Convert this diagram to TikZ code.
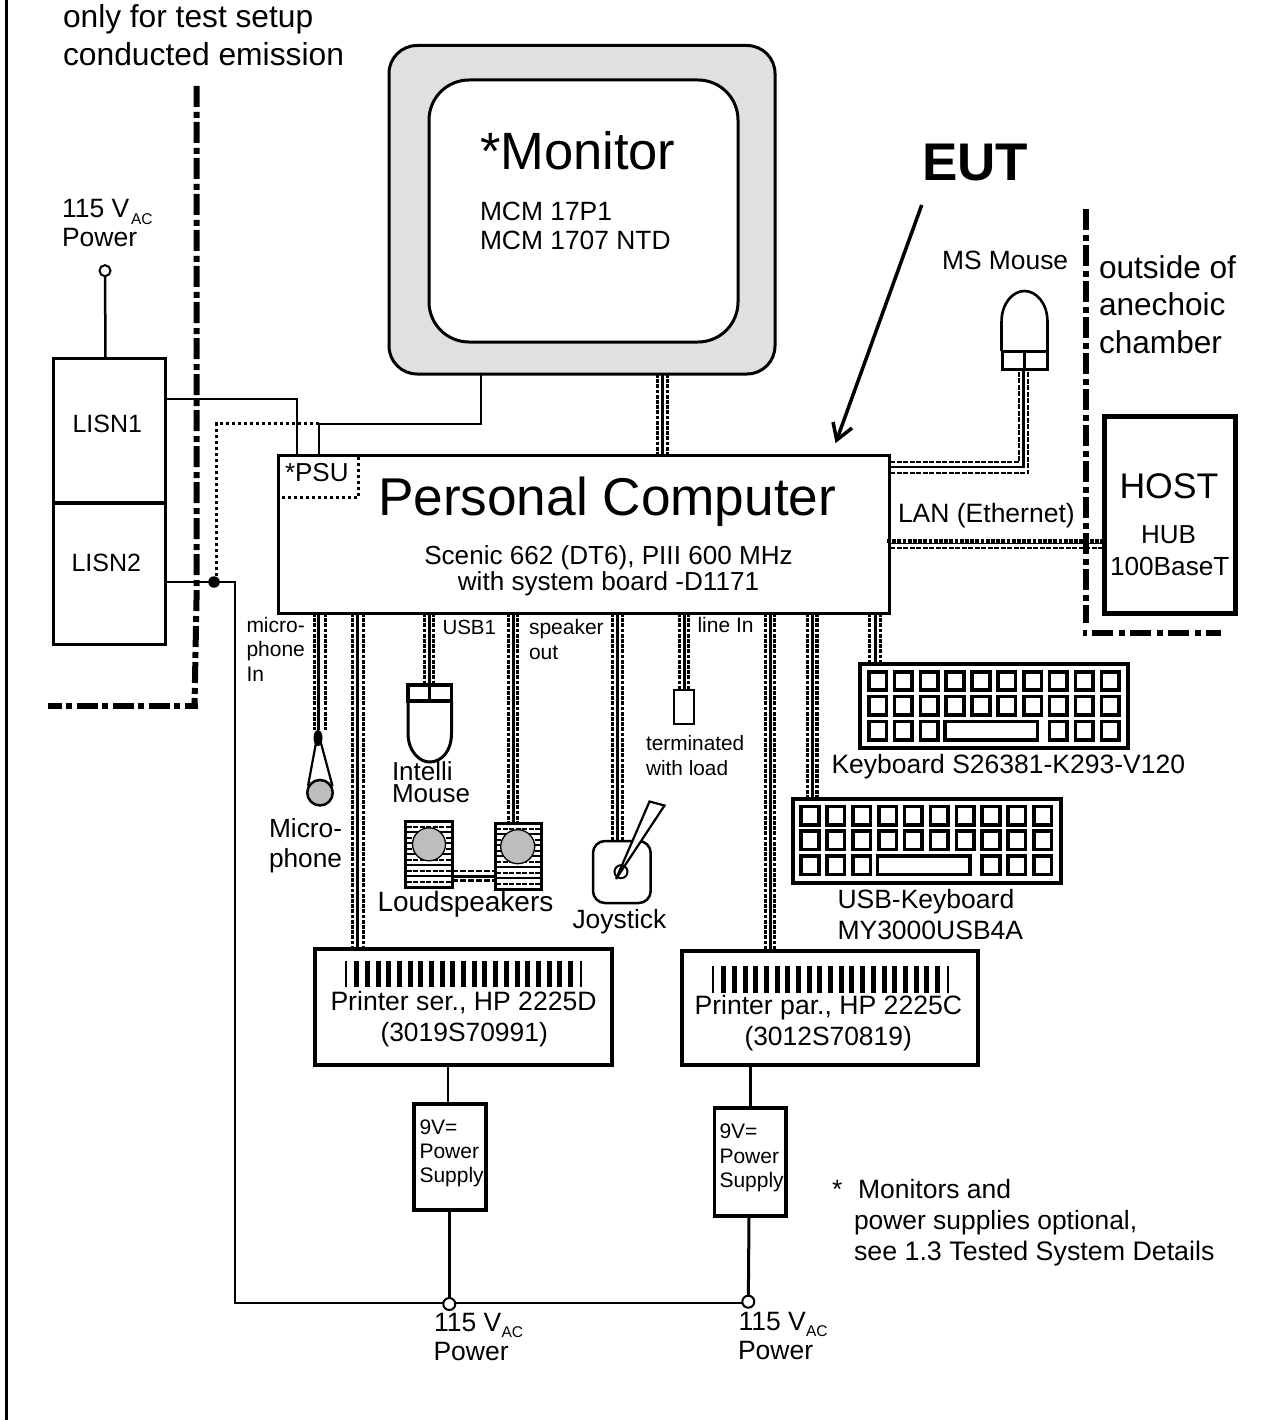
\documentclass[tikz,border=0pt]{standalone}
\usepackage{fontspec}
\setmainfont{Liberation Sans}
\newcommand\bx[6]{\node[draw=black,inner sep=0pt,outer sep=0pt,minimum width={#4-#2},minimum height={#5-#3},#6] (#1) at ({(#2+#4)/2},{(#3+#5)/2}) {};}
\newcommand\vcab[4]{%
  \draw[cdash] ([xshift=#3pt]#1) -- ([xshift=#3pt]#2);
  \draw[csol] (#1) -- (#2);
  \draw[cdash] ([xshift=#4pt]#1) -- ([xshift=#4pt]#2);}
\newcommand\kbd[3]{%
  \begin{scope}[shift={(#2,#3)}]
    \bx{#1}{0}{0}{268}{84}{line width=4pt}
    \foreach \c in {0,...,9} {
      \foreach \r in {0,1} {
        \draw[line width=3.6pt] ({17.5+25.85*\c-8.8},{17+24.8*\r-9.2}) rectangle ++(17.6,18.4);
      }
    }
    \foreach \c in {0,1,2,7,8,9} {
      \draw[line width=3.6pt] ({17.5+25.85*\c-8.8},{66.6-9.2}) rectangle ++(17.6,18.4);
    }
    \draw[line width=3.6pt] (85,57.4) rectangle (177.5,75.8);
  \end{scope}}
\newcommand\spk[5]{%
  \begin{scope}
    \bx{#1}{#2}{#3}{#4}{#5}{line width=3pt}
    \foreach \k in {1,...,11} {
      \pgfmathsetmacro\yy{#3+5.5*\k}
      \ifodd\k
        \draw[line width=2pt,dash pattern=on 5pt off 1.5pt] (#2+1,\yy) -- (#4-1,\yy);
      \else
        \draw[line width=2pt] (#2+1,\yy) -- (#4-1,\yy);
      \fi
    }
  \end{scope}}
\tikzset{
  lab/.style={anchor=base west,inner sep=0pt,outer sep=0pt,font=\fontsize{#1}{#1}\selectfont},
  cdash/.style={line width=3.3pt,dash pattern=on 3.8pt off 1.4pt},
  csol/.style={line width=3pt},
  wire/.style={line width=2pt},
  pline/.style={line width=3pt},
  dotl/.style={line width=3.2pt,dash pattern=on 3pt off 3pt},
  bound/.style={line width=6pt,dash pattern=on 21pt off 5pt on 6pt off 4pt},
  term/.style={circle,draw=black,fill=white,line width=2pt,minimum size=12pt,inner sep=0pt,outer sep=0pt},
  gcirc/.style={circle,draw=black,fill=black!26,inner sep=0pt,outer sep=0pt},
}
\begin{document}
\begin{tikzpicture}[x=1pt,y=-1pt,line join=miter]
\useasboundingbox (0,0) rectangle (1263,1420);
% page border
\coordinate (bt) at (6.7,0); \coordinate (bb) at (6.7,1420);
\draw[line width=3.5pt] (bt) -- (bb);

% boundaries
\coordinate (la) at (196.5,86); \coordinate (lb) at (196.5,600); \coordinate (lc) at (194.5,706);
\coordinate (ld) at (198,706); \coordinate (le) at (48,706);
\draw[bound] (la) -- (lb) -- (lc);
\draw[bound,dash pattern=on 21pt off 5pt on 6pt off 4pt,dash phase=8pt] (ld) -- (le);
\coordinate (ra) at (1085.7,209); \coordinate (rb) at (1085.7,623);
\coordinate (rc) at (1092,632.7); \coordinate (rd) at (1221,632.7);
\coordinate (re) at (1083,632.7); \coordinate (rf) at (1087,632.7);
\draw[bound] (ra) -- (rb);
\draw[bound,dash pattern=on 21pt off 5.5pt on 6pt off 5.5pt] (rc) -- (rd);
\draw[line width=6pt] (re) -- (rf);

% cable coordinates
\coordinate (monA) at (662.3,374); \coordinate (monB) at (662.3,455);
\vcab{monA}{monB}{-5}{5}
\coordinate (micA) at (318.7,613); \coordinate (micB) at (318.7,730);
\vcab{micA}{micB}{-4.5}{7}
\coordinate (serA) at (357.3,613); \coordinate (serB) at (357.3,948);
\vcab{serA}{serB}{-4.5}{6.5}
\coordinate (usbA) at (429,613); \coordinate (usbB) at (429,684);
\vcab{usbA}{usbB}{-4.5}{4.5}
\coordinate (spkA) at (513,613); \coordinate (spkB) at (513,823);
\vcab{spkA}{spkB}{-4.5}{4.5}
\coordinate (joyA) at (617.3,613); \coordinate (joyB) at (617.3,841);
\vcab{joyA}{joyB}{-4.7}{5}
\coordinate (linA) at (684,613); \coordinate (linB) at (684,689);
\vcab{linA}{linB}{-4.2}{4.2}
\coordinate (parA) at (770,613); \coordinate (parB) at (770,949);
\vcab{parA}{parB}{-4.4}{4.4}
\coordinate (ukbA) at (812.3,613); \coordinate (ukbB) at (812.3,798);
\vcab{ukbA}{ukbB}{-4.6}{4.6}
\coordinate (kbdA) at (875,613); \coordinate (kbdB) at (875,664);
\vcab{kbdA}{kbdB}{-5.7}{5.7}

% mouse cable
\coordinate (m1a) at (890,462); \coordinate (m1b) at (1019,462); \coordinate (m1c) at (1019,370);
\coordinate (m2a) at (890,467); \coordinate (m2b) at (1023.5,467); \coordinate (m2c) at (1023.5,370);
\coordinate (m3a) at (890,473); \coordinate (m3b) at (1028,473); \coordinate (m3c) at (1028,370);
\draw[cdash,line width=2.8pt,dash pattern=on 5pt off 1.5pt] (m1a) -- (m1b) -- (m1c);
\draw[line width=2.2pt] (m2a) -- (m2b) -- (m2c);
\draw[cdash,line width=2.8pt,dash pattern=on 5pt off 1.5pt] (m3a) -- (m3b) -- (m3c);
% LAN cable
\coordinate (l1a) at (887,541); \coordinate (l1b) at (1103,541);
\coordinate (l2a) at (890,543.5); \coordinate (l2b) at (1103,543.5);
\coordinate (l3a) at (890,548); \coordinate (l3b) at (1103,548);
\draw[cdash,line width=3.6pt] (l1a) -- (l1b);
\draw[line width=1.8pt] (l2a) -- (l2b);
\draw[cdash,line width=2.8pt,dash pattern=on 5pt off 1.5pt] (l3a) -- (l3b);
% speaker link
\coordinate (s1a) at (452,871); \coordinate (s1b) at (495,871);
\coordinate (s2a) at (452,876); \coordinate (s2b) at (495,876);
\coordinate (s3a) at (452,880.7); \coordinate (s3b) at (495,880.7);
\draw[cdash,line width=2.6pt,dash pattern=on 6pt off 2pt] (s1a) -- (s1b);
\draw[line width=3pt] (s2a) -- (s2b);
\draw[cdash,line width=2.6pt,dash pattern=on 6pt off 2pt] (s3a) -- (s3b);

% monitor
\bx{monO}{389}{45.5}{775}{374}{line width=3pt,rounded corners=28pt,fill=black!12}
\bx{monI}{429}{80}{738}{342}{line width=3pt,rounded corners=40pt,fill=white}
\node[lab=52.5] (monT) at (480,170) {*Monitor};
\node[lab=26.4] (mon1) at (480,221) {MCM 17P1};
\node[lab=26.4] (mon2) at (480,250) {MCM 1707 NTD};

% PC
\bx{pc}{278.5}{455.5}{889.5}{613.5}{line width=3.5pt}
\node[lab=53.2] (pcT) at (378,515) {Personal Computer};
\node[lab=26.1,anchor=base] (pc1) at (608.5,564) {Scenic 662 (DT6), PIII 600 MHz};
\node[lab=26.1,anchor=base] (pc2) at (608.5,590) {with system board -D1171};
\node[lab=26] (psuT) at (285,481) {*PSU};
\coordinate (psA) at (358.3,457); \coordinate (psB) at (358.3,497.3); \coordinate (psC) at (280,497.3);
\draw[dotl] (psA) -- (psB) -- (psC);

% LISN
\bx{lisn}{53.5}{358.5}{165.5}{644.5}{line width=3pt}
\coordinate (lisnL) at (53.5,503); \coordinate (lisnR) at (165.5,503);
\draw[line width=3.5pt] (lisnL) -- (lisnR);
\node[lab=25] (l1) at (72.5,432) {LISN1};
\node[lab=25] (l2) at (71.5,571) {LISN2};
\node[term,minimum size=11pt] (t0) at (105,270.7) {};
\coordinate (l0) at (105.5,358);
\draw[line width=2.5pt] (t0) -- (l0);
\node[lab=26.5] (v0) at (62,218) {115 V};
\node[lab=15.5] (v0s) at (131,224.5) {AC};
\node[lab=26.5] (p0) at (62,247) {Power};

% mains wiring
\coordinate (w1a) at (166,399); \coordinate (w1b) at (297,399); \coordinate (w1c) at (297,455);
\draw[wire] (w1a) -- (w1b) -- (w1c);
\coordinate (w2a) at (318.5,455); \coordinate (w2b) at (318.5,423.5); \coordinate (w2c) at (480.7,423.5); \coordinate (w2d) at (480.7,375);
\draw[wire] (w2a) -- (w2b) -- (w2c) -- (w2d);
\node[circle,fill=black,minimum size=11.5pt,inner sep=0pt,outer sep=0pt] (jn) at (214,582) {};
\coordinate (d1) at (216.7,582); \coordinate (d2) at (216.7,423.5); \coordinate (d3) at (320,423.5);
\draw[dotl] (d1) -- (d2) -- (d3);
\coordinate (w3a) at (166,581.7); \coordinate (w3b) at (235,581.7); \coordinate (w3c) at (235,1303.3);
\coordinate (w3d) at (748,1303.3);
\draw[wire] (w3a) -- (w3b) -- (w3c) -- (w3d);

% text left of cables
\node[lab=21] (mi1) at (246.5,632) {micro-};
\node[lab=21] (mi2) at (246.5,656) {phone};
\node[lab=21] (mi3) at (246.5,681) {In};
\node[lab=20.5] (usbT) at (442.5,634) {USB1};
\node[lab=21] (sp1) at (529,634) {speaker};
\node[lab=21] (sp2) at (529,659) {out};
\node[lab=21] (lnT) at (697.5,632.7) {line In};
\node[lab=20.8] (tm1) at (646,750.7) {terminated};
\node[lab=20.8] (tm2) at (646,775.7) {with load};
\bx{load}{673.5}{689.5}{694}{724}{line width=2pt}

% microphone
\coordinate (mcT) at (318,732); \coordinate (mcL) at (308,786); \coordinate (mcR) at (332.5,786);
\draw[line width=2.2pt] (mcL) -- (mcT) -- (mcR);
\node[circle,fill=black,minimum width=9pt,minimum height=9pt,inner sep=0pt,yscale=1.8] (mcB) at (318,738) {};
\node[gcirc,line width=2.5pt,minimum size=25.5pt] (mcC) at (320,792.7) {};
\node[lab=26.3] (mt1) at (269,837) {Micro-};
\node[lab=26.3] (mt2) at (269,867) {phone};

% intelli mouse
\bx{imT}{408}{685}{451.5}{701}{line width=3.5pt}
\coordinate (imc) at (429.5,685); \coordinate (imd) at (429.5,701);
\draw[line width=3.5pt] (imc) -- (imd);
\coordinate (ima) at (408,701); \coordinate (imb) at (451.5,701);
\draw[line width=3pt] (ima) -- (408,733) .. controls (408,752) and (420,762) .. (429.5,762) .. controls (441,762) and (451.5,752) .. (451.5,733) -- (imb);
\node[lab=26] (it1) at (392,780) {Intelli};
\node[lab=26] (it2) at (392,802) {Mouse};

% speakers
\spk{spL}{405.5}{821}{452.5}{887.5}
\spk{spR}{495}{823}{541}{889.5}
\node[gcirc,line width=1.3pt,minimum size=33pt] (scL) at (429,844.3) {};
\node[gcirc,line width=1.3pt,minimum size=34pt] (scR) at (517.7,846.7) {};
\node[lab=28] (lsT) at (377.5,911.7) {Loudspeakers};

% joystick
\bx{joy}{593}{841}{650.7}{903}{line width=2.5pt,rounded corners=12pt}
\coordinate (jsA) at (616,879); \coordinate (jsB) at (649.5,801.5); \coordinate (jsC) at (664.5,805.5);
\draw[line width=2.2pt,fill=white] (jsA) -- (jsB) -- (jsC) -- cycle;
\node[circle,draw=black,line width=2pt,minimum size=13pt,inner sep=0pt] (jsO) at (621,871.7) {};
\node[lab=26.4] (jtT) at (572.5,928.3) {Joystick};

% keyboards
\kbd{kb1}{860}{664}
\node[lab=26.5] (k1T) at (831.5,773.3) {Keyboard S26381-K293-V120};
\kbd{kb2}{792.5}{798.5}
\node[lab=26.5] (k2a) at (837.5,908) {USB-Keyboard};
\node[lab=26.5] (k2b) at (837.5,939) {MY3000USB4A};

% printers
\bx{pr1}{314.5}{948.5}{612}{1064.5}{line width=4pt}
\bx{pr2}{681.5}{950.5}{978}{1064.5}{line width=4pt}
\draw[line width=2pt] (346,961) -- (346,987);
\foreach \k in {1,...,21} {\draw[line width=5pt] ({345+10.69*\k+1},961) -- ({345+10.69*\k+1},987);}
\draw[line width=2.5pt] (581,961) -- (581,987);
\draw[line width=2pt] (712.5,966) -- (712.5,992.7);
\foreach \k in {1,...,21} {\draw[line width=5pt] ({712+10.69*\k+1},966) -- ({712+10.69*\k+1},992.7);}
\draw[line width=2.5pt] (948,966) -- (948,992.7);
\node[lab=26.6] (p1a) at (330.5,1010) {Printer ser., HP 2225D};
\node[lab=26.4] (p1b) at (380.5,1041.5) {(3019S70991)};
\node[lab=26.6] (p2a) at (694.5,1014) {Printer par., HP 2225C};
\node[lab=26.4] (p2b) at (744.5,1045.5) {(3012S70819)};

% power supplies
\bx{ps1}{414}{1104}{486}{1210}{line width=3.5pt}
\bx{ps2}{714.5}{1108}{786}{1216}{line width=3.5pt}
\node[lab=21] (s1a) at (419.5,1134) {9V=};
\node[lab=21] (s1b) at (419.5,1158) {Power};
\node[lab=21] (s1c) at (419.5,1182.5) {Supply};
\node[lab=21] (s2a) at (719.5,1138.5) {9V=};
\node[lab=21] (s2b) at (719.5,1163) {Power};
\node[lab=21] (s2c) at (719.5,1187.5) {Supply};
\node[term] (t1) at (449.3,1304) {};
\node[term] (t2) at (748.3,1301.7) {};
\coordinate (q1a) at (448.3,1066); \coordinate (q1b) at (448.3,1103);
\coordinate (q2a) at (750,1066); \coordinate (q2b) at (750,1107);
\draw[line width=2.2pt] (q1a) -- (q1b);
\draw[line width=3pt] (q2a) -- (q2b);
\coordinate (q1c) at (449.3,1211); \coordinate (q2c) at (749,1217);
\draw[pline] (q1c) -- (t1);
\draw[pline] (q2c) -- (t2);
\node[lab=26.5] (v1) at (434,1331) {115 V};
\node[lab=15.5] (v1s) at (501.5,1337.5) {AC};
\node[lab=26.5] (p1) at (433.5,1360.5) {Power};
\node[lab=26.5] (v2) at (738.5,1330) {115 V};
\node[lab=15.5] (v2s) at (806,1336.5) {AC};
\node[lab=26.5] (p2) at (738,1359) {Power};

% host
\bx{host}{1104}{416}{1235}{613}{line width=5pt}
\node[lab=35.6] (hT) at (1119.5,498.5) {HOST};
\node[lab=26] (h1) at (1141,543.5) {HUB};
\node[lab=26.2] (h2) at (1110,575) {100BaseT};
\node[lab=26.5] (lanT) at (898,522.7) {LAN (Ethernet)};

% ms mouse
\bx{mmB}{1002}{351}{1047}{369}{line width=3pt}
\coordinate (mmc) at (1024,351); \coordinate (mmd) at (1024,369);
\draw[line width=3pt] (mmc) -- (mmd);
\coordinate (mma) at (1001.5,351); \coordinate (mmb) at (1047.5,351);
\draw[line width=2.6pt] (mma) -- (1001.5,322) .. controls (1001.5,303) and (1013,291) .. (1024.5,291) .. controls (1036,291) and (1047.5,303) .. (1047.5,322) -- (mmb);
\node[lab=26.4] (msT) at (942,269.3) {MS Mouse};
\node[lab=31.6] (o1) at (1099,279) {outside of};
\node[lab=31.6] (o2) at (1099,316) {anechoic};
\node[lab=31.6] (o3) at (1099,353) {chamber};

% EUT
\node[lab=53,font=\fontsize{53}{53}\selectfont\bfseries] (eut) at (922,181) {EUT};
\coordinate (ea) at (921.7,205); \coordinate (eb) at (836.7,440);
\coordinate (ec) at (833,422); \coordinate (ed) at (852,428);
\draw[line width=3.5pt] (ea) -- (eb);
\draw[line width=3.5pt] (ec) -- (eb) -- (ed);

% top left
\node[lab=31.7] (n1) at (63,27.3) {only for test setup};
\node[lab=31.8] (n2) at (63,65.7) {conducted emission};

% footnote
\node[lab=26.5] (f1) at (832,1198) {*};
\node[lab=26.5] (f2) at (858,1198) {Monitors and};
\node[lab=26.4] (f3) at (854,1229.5) {power supplies optional,};
\node[lab=26.8] (f4) at (854,1260) {see 1.3 Tested System Details};
\end{tikzpicture}
\end{document}
